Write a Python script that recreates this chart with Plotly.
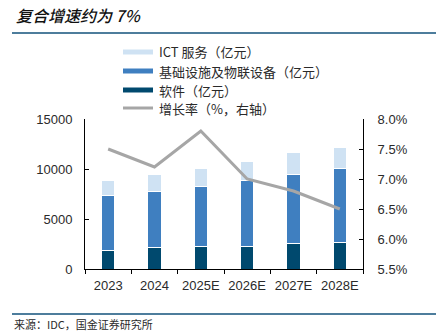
import plotly.graph_objects as go

years = ["2023", "2024", "2025E", "2026E", "2027E", "2028E"]
software = [1900, 2130, 2230, 2300, 2530, 2700]
infra = [5500, 5670, 6040, 6530, 6970, 7330]
ict = [1500, 1700, 1760, 1970, 2170, 2100]
growth = [7.5, 7.2, 7.8, 7.0, 6.8, 6.5]
legend_names = ["ICT 服务（亿元）", "基础设施及物联设备（亿元）", "软件（亿元）", "增长率（%，右轴）"]

c_ict = "#cfe2f3"
c_infra = "#3f7fc0"
c_soft = "#00496e"
c_line = "#a6a6a6"

cjk = "Noto Sans CJK SC"
num = "Liberation Sans, Arial"
txt = "#2a2a2a"

# plot area in pixels
L, R, T, B = 85, 363, 119, 269
W, H = R - L, B - T


def px_x(x):
    return (x - L) / W


def px_y(y):
    return (B - y) / H


fig = go.Figure()
for name, vals, col in [(legend_names[2], software, c_soft),
                        (legend_names[1], infra, c_infra),
                        (legend_names[0], ict, c_ict)]:
    fig.add_trace(go.Bar(x=years, y=vals, marker=dict(color=col, line=dict(color="white", width=1)),
                         width=0.29, showlegend=False, name=name))

fig.add_trace(go.Scatter(x=years, y=growth, yaxis="y2", mode="lines",
                         line=dict(color=c_line, width=3), showlegend=False,
                         name=legend_names[3]))

fig.update_layout(
    width=442, height=331,
    margin=dict(l=L, r=442 - R, t=T, b=331 - B),
    barmode="stack",
    plot_bgcolor="white", paper_bgcolor="white",
    font=dict(family=num, size=13, color=txt),
    showlegend=False,
    xaxis=dict(type="category", showline=True, linecolor="black", linewidth=1,
               ticks="outside", ticklen=4, tickson="boundaries", tickcolor="black",
               tickangle=0, ticklabelstandoff=4,
               tickfont=dict(family=num, size=13, color=txt)),
    yaxis=dict(range=[0, 15000], dtick=5000, tickformat="d", showgrid=False, zeroline=False,
               showline=True, linecolor="black", linewidth=1,
               ticks="inside", ticklen=4, tickcolor="black",
               tickfont=dict(family=num, size=13, color=txt), ticklabelstandoff=9),
    yaxis2=dict(overlaying="y", side="right", range=[5.5, 8.0], dtick=0.5,
                tickformat=".1f", ticksuffix="%", showgrid=False, zeroline=False,
                showline=True, linecolor="black", linewidth=1,
                ticks="inside", ticklen=4, tickcolor="black",
                tickfont=dict(family=num, size=13, color=txt), ticklabelstandoff=11),
)

# manual legend (line-style symbols like the reference)
leg_cols = [c_ict, c_infra, c_soft, c_line]
leg_widths = [5, 5, 5, 3]
leg_rows = [52, 71, 90, 108]
for name, col, lw, yy in zip(legend_names, leg_cols, leg_widths, leg_rows):
    fig.add_shape(type="line", xref="paper", yref="paper",
                  x0=px_x(123), x1=px_x(153), y0=px_y(yy), y1=px_y(yy),
                  line=dict(color=col, width=lw))
    fig.add_annotation(text=name, xref="paper", yref="paper",
                       x=px_x(157), y=px_y(yy), xanchor="left", yanchor="middle",
                       showarrow=False, font=dict(family=cjk, size=13, color=txt))

fig.add_annotation(text="<i>复合增速约为 7%</i>", xref="paper", yref="paper",
                   x=px_x(14), y=px_y(15), xanchor="left", yanchor="middle",
                   showarrow=False,
                   font=dict(family=cjk, size=16, color="#111", weight=500))
for yy in (33, 314):
    fig.add_shape(type="line", xref="paper", yref="paper", x0=px_x(12), x1=px_x(436),
                  y0=px_y(yy), y1=px_y(yy), line=dict(color="#4d7d9c", width=2))
fig.add_annotation(text="来源：IDC，国金证券研究所", xref="paper", yref="paper",
                   x=px_x(12), y=px_y(324), xanchor="left", yanchor="middle",
                   showarrow=False, font=dict(family=cjk, size=11, color=txt))

fig.write_html("out.html")
